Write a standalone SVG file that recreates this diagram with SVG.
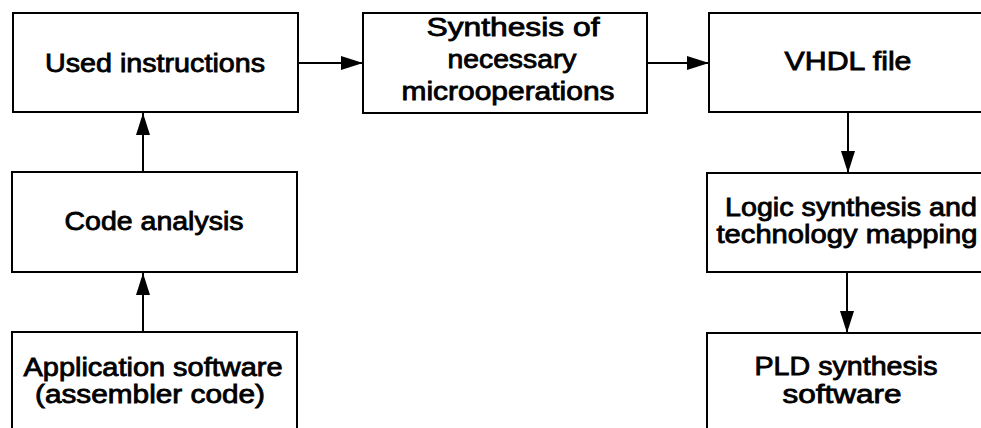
<svg xmlns="http://www.w3.org/2000/svg" width="981" height="428" viewBox="0 0 981 428">
  <style>
    .box { fill: #fff; stroke: #000; stroke-width: 2; }
    .lbl { font-family: "Liberation Sans", Arial, sans-serif; font-size: 25px; fill: #000; stroke: #000; stroke-width: 0.8; text-anchor: middle; }
    .edge { stroke: #000; stroke-width: 2; fill: none; marker-end: url(#head); }
  </style>
  <defs>
    <marker id="head" markerUnits="userSpaceOnUse" markerWidth="22" markerHeight="14" refX="22" refY="7" orient="auto">
      <path d="M0,0 L22,7 L0,14 Z" fill="#000"/>
    </marker>
  </defs>

  <rect width="981" height="428" fill="#fff"/>

  <g id="connectors">
    <line class="edge" x1="298" y1="63" x2="363" y2="63"/>
    <line class="edge" x1="647" y1="63" x2="709" y2="63"/>
    <line class="edge" x1="143" y1="172" x2="143" y2="113"/>
    <line class="edge" x1="143" y1="332" x2="143" y2="273"/>
    <line class="edge" x1="848" y1="112" x2="848" y2="173"/>
    <line class="edge" x1="847" y1="272" x2="847" y2="333"/>
  </g>

  <g id="used-instructions">
    <rect class="box" x="13" y="13" width="285" height="99"/>
    <text class="lbl" x="155" y="72" textLength="220" lengthAdjust="spacingAndGlyphs">Used instructions</text>
  </g>

  <g id="synthesis">
    <rect class="box" x="363" y="13" width="284" height="100"/>
    <text class="lbl" x="513" y="36" textLength="173" lengthAdjust="spacingAndGlyphs">Synthesis of</text>
    <text class="lbl" x="512" y="68" textLength="129" lengthAdjust="spacingAndGlyphs">necessary</text>
    <text class="lbl" x="508" y="100" textLength="213" lengthAdjust="spacingAndGlyphs">microoperations</text>
  </g>

  <g id="vhdl-file">
    <rect class="box" x="709" y="13" width="300" height="99"/>
    <text class="lbl" x="848" y="70" textLength="127" lengthAdjust="spacingAndGlyphs">VHDL file</text>
  </g>

  <g id="code-analysis">
    <rect class="box" x="12" y="172" width="285" height="100"/>
    <text class="lbl" x="154" y="230" textLength="179" lengthAdjust="spacingAndGlyphs">Code analysis</text>
  </g>

  <g id="logic-synthesis">
    <rect class="box" x="707" y="173" width="300" height="99"/>
    <text class="lbl" x="851" y="216" textLength="252" lengthAdjust="spacingAndGlyphs">Logic synthesis and</text>
    <text class="lbl" x="847" y="243" textLength="261" lengthAdjust="spacingAndGlyphs">technology mapping</text>
  </g>

  <g id="application-software">
    <rect class="box" x="12" y="332" width="285" height="110"/>
    <text class="lbl" x="153" y="376" textLength="259" lengthAdjust="spacingAndGlyphs">Application software</text>
    <text class="lbl" x="150" y="403" textLength="230" lengthAdjust="spacingAndGlyphs">(assembler code)</text>
  </g>

  <g id="pld-software">
    <rect class="box" x="707" y="333" width="300" height="110"/>
    <text class="lbl" x="846" y="375" textLength="183" lengthAdjust="spacingAndGlyphs">PLD synthesis</text>
    <text class="lbl" x="842" y="403" textLength="119" lengthAdjust="spacingAndGlyphs">software</text>
  </g>
</svg>
